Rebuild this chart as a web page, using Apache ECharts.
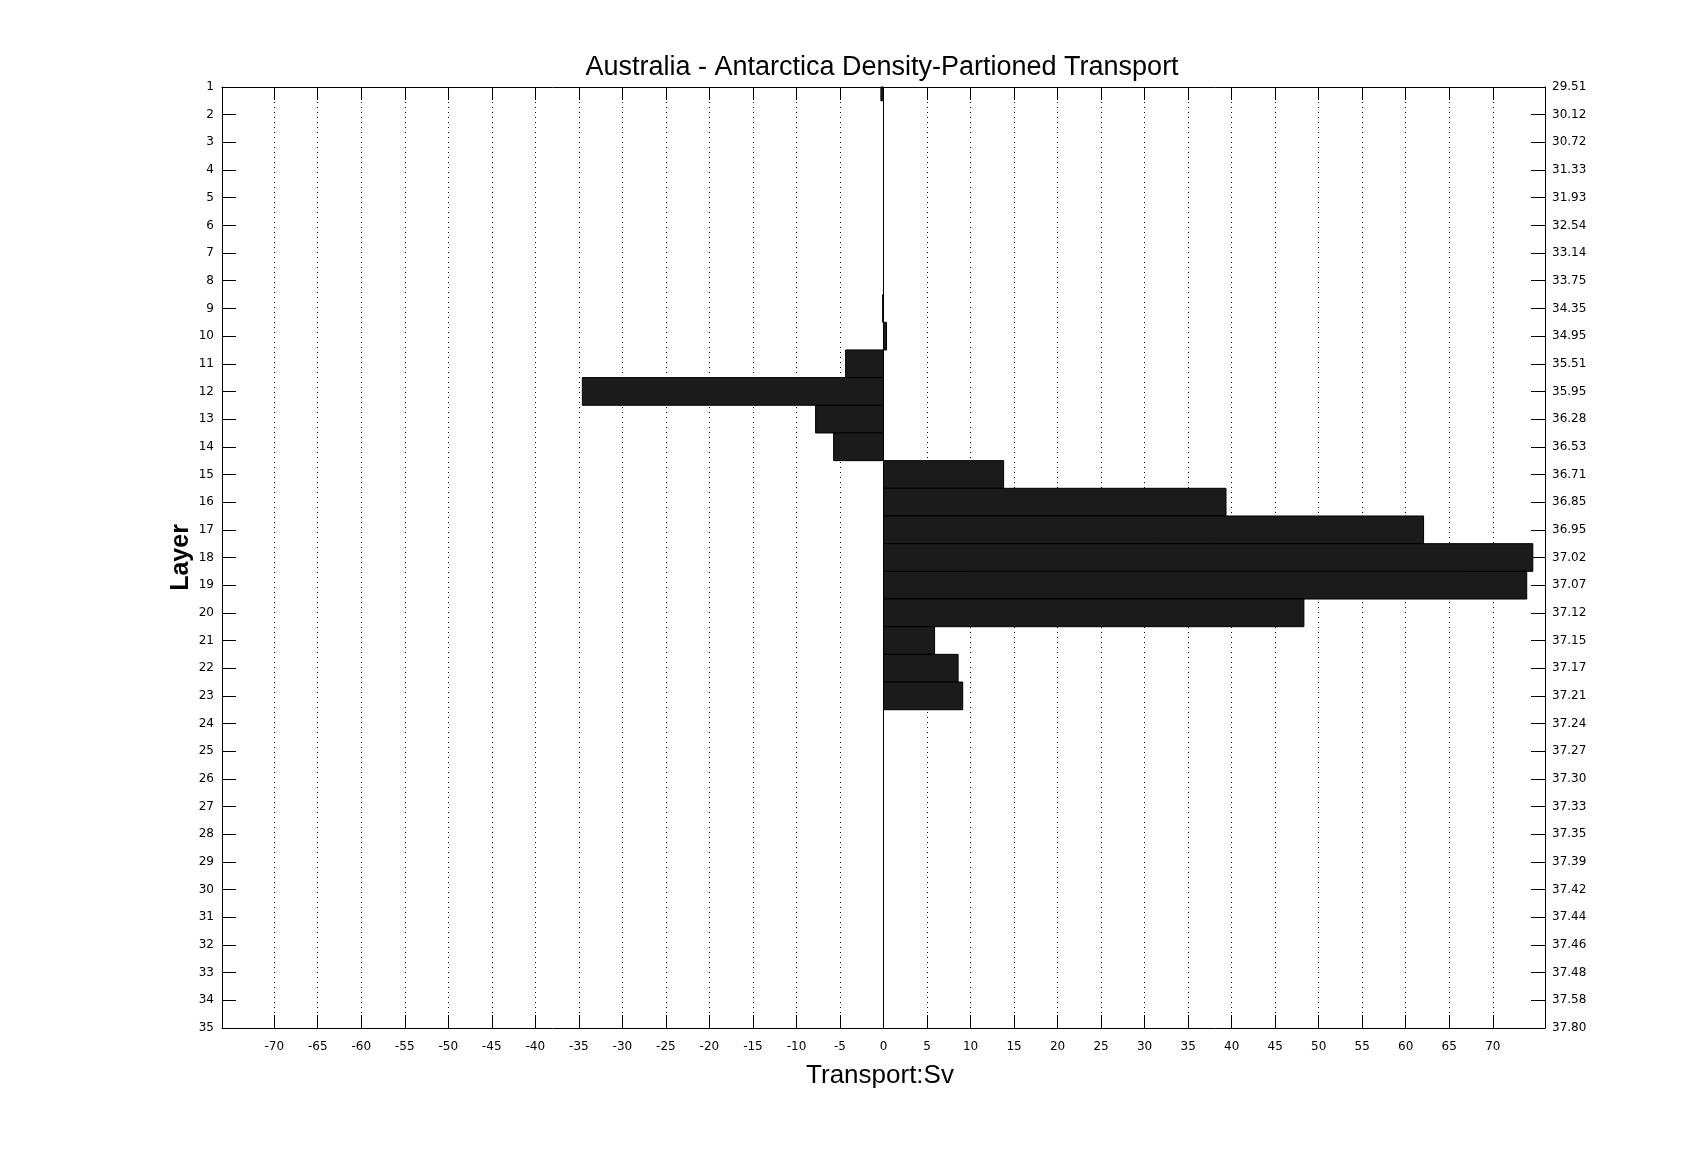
<!DOCTYPE html>
<html>
<head>
<meta charset="utf-8">
<script src="https://cdn.jsdelivr.net/npm/echarts@6/dist/echarts.min.js"></script>
<style>
html,body{margin:0;padding:0;background:#fff;}
#chart{width:1707px;height:1155px;}
</style>
</head>
<body>
<div id="chart"></div>
<script>
const layers = ['1','2','3','4','5','6','7','8','9','10','11','12','13','14','15','16','17','18','19','20','21','22','23','24','25','26','27','28','29','30','31','32','33','34','35'];
const densities = ['29.51','30.12','30.72','31.33','31.93','32.54','33.14','33.75','34.35','34.95','35.51','35.95','36.28','36.53','36.71','36.85','36.95','37.02','37.07','37.12','37.15','37.17','37.21','37.24','37.27','37.30','37.33','37.35','37.39','37.42','37.44','37.46','37.48','37.58','37.80'];
const transport = [-0.3,0,0,0,0,0,0,0,-0.1,0.35,-4.35,-34.6,-7.8,-5.73,13.8,39.35,62.05,74.6,73.9,48.3,5.87,8.57,9.1,0,0,0,0,0,0,0,0,0,0,0,0];
const xTicks = [-70,-65,-60,-55,-50,-45,-40,-35,-30,-25,-20,-15,-10,-5,0,5,10,15,20,25,30,35,40,45,50,55,60,65,70];
const xMin = -76, xMax = 76;

const barData = transport.map((v, i) => [i, v]);

const tickFont = {fontFamily: 'DejaVu Sans', fontSize: 12, color: '#000'};
const chart = echarts.init(document.getElementById('chart'), null, {renderer: 'canvas'});

function renderBar(params, api) {
  const yi = api.value(0);
  const v = api.value(1);
  const p0 = api.coord([0, yi]);
  const p1 = api.coord([v, yi]);
  const h = api.size([0, 1])[1];
  const cs = params.coordSys;
  const rect = echarts.graphic.clipRectByRect(
    {x: Math.min(p0[0], p1[0]), y: p0[1] - h / 2, width: Math.abs(p1[0] - p0[0]), height: h},
    {x: cs.x, y: cs.y, width: cs.width, height: cs.height}
  );
  if (!rect) return null;
  return {
    type: 'rect',
    shape: rect,
    style: {fill: '#1b1b1b', stroke: '#000', lineWidth: 1}
  };
}

chart.setOption({
  animation: false,
  backgroundColor: '#fff',
  title: {
    text: 'Australia - Antarctica Density-Partioned Transport',
    left: 877, top: 49, textAlign: 'center',
    textStyle: {fontFamily: 'Liberation Sans', fontSize: 27, fontWeight: 'normal', color: '#000'}
  },
  grid: {left: 222, right: 162, top: 87, bottom: 127, containLabel: false},
  xAxis: [{
    type: 'value', min: xMin, max: xMax, position: 'bottom',
    name: 'Transport:Sv', nameLocation: 'middle', nameGap: 35,
    nameTextStyle: {fontFamily: 'Liberation Sans', fontSize: 26, color: '#000', padding: [0, 7, 0, 0]},
    axisLine: {show: true, onZero: false, lineStyle: {color: '#000', width: 1}},
    axisTick: {show: true, inside: true, length: 13, customValues: xTicks, lineStyle: {color: '#000', width: 1}},
    axisLabel: Object.assign({show: true, margin: 13, customValues: xTicks}, tickFont),
    splitLine: {show: true, lineStyle: {color: '#000', width: 1, type: [1, 4]}}
  }, {
    type: 'value', min: xMin, max: xMax, position: 'top',
    axisLine: {show: true, onZero: false, lineStyle: {color: '#000', width: 1}},
    axisTick: {show: true, inside: true, length: 13, customValues: xTicks, lineStyle: {color: '#000', width: 1}},
    axisLabel: {show: false},
    splitLine: {show: false}
  }],
  yAxis: [{
    type: 'category', data: layers, inverse: true, boundaryGap: false, position: 'left',
    name: 'Layer', nameLocation: 'middle', nameGap: 28, nameRotate: 90, nameMoveOverlap: false,
    nameTextStyle: {fontFamily: 'Liberation Sans', fontSize: 25, fontWeight: 'bold', color: '#000'},
    axisLine: {show: true, onZero: false, lineStyle: {color: '#000', width: 1}},
    axisTick: {show: true, inside: true, length: 14, lineStyle: {color: '#000', width: 1}},
    axisLabel: Object.assign({show: true, margin: 8, interval: 0}, tickFont),
    splitLine: {show: false}
  }, {
    type: 'category', data: densities, inverse: true, boundaryGap: false, position: 'right',
    axisLine: {show: true, onZero: false, lineStyle: {color: '#000', width: 1}},
    axisTick: {show: true, inside: true, length: 14, lineStyle: {color: '#000', width: 1}},
    axisLabel: Object.assign({show: true, margin: 7, interval: 0}, tickFont),
    splitLine: {show: false}
  }],
  series: [{
    type: 'custom',
    xAxisIndex: 0, yAxisIndex: 0,
    data: barData,
    encode: {x: 1, y: 0},
    renderItem: renderBar,
    markLine: {
      silent: true, symbol: 'none', label: {show: false},
      lineStyle: {color: '#000', width: 1, type: 'solid'},
      data: [{xAxis: 0}]
    }
  }]
});
</script>
</body>
</html>
